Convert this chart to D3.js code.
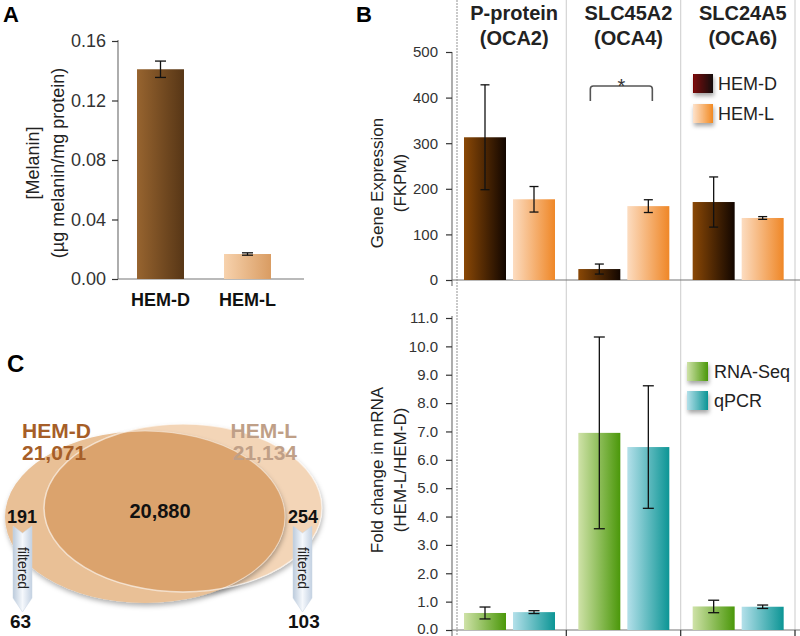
<!DOCTYPE html>
<html><head><meta charset="utf-8">
<script src="https://cdn.jsdelivr.net/npm/d3@7/dist/d3.min.js"></script>
<style>
body{margin:0;background:#fff;}
svg{display:block;font-family:"Liberation Sans",Arial,sans-serif;}
</style></head>
<body>
<svg id="chart" width="800" height="636"></svg>
<script>
// ---------- DATA ----------
const melaninCats = ["HEM-D", "HEM-L"];
const melaninVals = [0.141, 0.0168];
const melaninErr = [0.0055, 0.0008];
const melaninTicks = [0, 0.04, 0.08, 0.12, 0.16];

const genes = ["P-protein", "SLC45A2", "SLC24A5"];
const geneSub = ["(OCA2)", "(OCA4)", "(OCA6)"];
const exprSeries = ["HEM-D", "HEM-L"];
const exprD = [313, 24, 171];
const exprDErr = [115, 11, 55];
const exprL = [177, 162, 136];
const exprLErr = [28, 14, 3];
const exprTicks = [0, 100, 200, 300, 400, 500];

const foldSeries = ["RNA-Seq", "qPCR"];
const foldRNA = [0.6, 6.95, 0.83];
const foldRNAErr = [0.21, 3.38, 0.22];
const foldQPCR = [0.63, 6.45, 0.82];
const foldQPCRErr = [0.05, 2.16, 0.06];
const foldTicks = [0,1,2,3,4,5,6,7,8,9,10,11];

const vennSets = ["HEM-D", "HEM-L"];
const vennTotals = ["21,071", "21,134"];
const vennShared = "20,880";
const vennOnly = ["191", "254"];
const vennFiltered = ["63", "103"];

// ---------- SETUP ----------
const svg = d3.select("#chart");
const defs = svg.append("defs");
function grad(id, c1, c2){
  const g = defs.append("linearGradient").attr("id", id).attr("x1","0").attr("x2","1").attr("y1","0").attr("y2","0");
  g.append("stop").attr("offset","0").attr("stop-color", c1);
  g.append("stop").attr("offset","1").attr("stop-color", c2);
}
grad("gA_D", "#97642f", "#573616");
grad("gA_L", "#f7d2ad", "#d99c62");
grad("gB_D", "#8a4806", "#120600");
grad("gB_L", "#fcdcc0", "#ef8727");
grad("gLeg_D", "#7c0606", "#141010");
grad("gLeg_L", "#fde2cb", "#f28a22");
grad("gRNA", "#cfe2a8", "#4b980a");
grad("gQ", "#b4e0ea", "#0c9595");
const ag = defs.append("linearGradient").attr("id","gArrow").attr("x1","0").attr("x2","1");
ag.append("stop").attr("offset","0").attr("stop-color","#bccbdc");
ag.append("stop").attr("offset","0.5").attr("stop-color","#f5f8fc");
ag.append("stop").attr("offset","1").attr("stop-color","#c3d1e2");
const sh = defs.append("filter").attr("id","shadow").attr("x","-20%").attr("y","-20%").attr("width","150%").attr("height","160%");
sh.append("feDropShadow").attr("dx",1).attr("dy",3).attr("stdDeviation",2.5).attr("flood-color","#000").attr("flood-opacity",0.3);
const sh2 = defs.append("filter").attr("id","shadow2").attr("x","-30%").attr("y","-30%").attr("width","170%").attr("height","170%");
sh2.append("feDropShadow").attr("dx",1).attr("dy",3).attr("stdDeviation",2).attr("flood-color","#000").attr("flood-opacity",0.35);

function styleAxis(g, fs){
  g.selectAll(".domain").attr("stroke","#777").attr("stroke-width",1.2);
  g.selectAll(".tick line").attr("stroke","#333").attr("stroke-width",1.2);
  g.selectAll(".tick text").attr("fill","#333").attr("font-size",fs).attr("font-family","Liberation Sans, Arial, sans-serif");
}
function errBar(g, x, yTop, yBot, cap){
  g.append("line").attr("x1",x).attr("x2",x).attr("y1",yTop).attr("y2",yBot).attr("stroke","#111").attr("stroke-width",1.3);
  g.append("line").attr("x1",x-cap/2).attr("x2",x+cap/2).attr("y1",yTop).attr("y2",yTop).attr("stroke","#111").attr("stroke-width",1.3);
  g.append("line").attr("x1",x-cap/2).attr("x2",x+cap/2).attr("y1",yBot).attr("y2",yBot).attr("stroke","#111").attr("stroke-width",1.3);
}

// ---------- PANEL A ----------
const gA = svg.append("g");
const yA = d3.scaleLinear().domain([0,0.16]).range([279,41]);
const xA = d3.scaleBand().domain(melaninCats).range([117,291]).paddingInner(0.46).paddingOuter(0.23);
gA.append("line").attr("x1",118).attr("x2",304).attr("y1",279).attr("y2",279).attr("stroke","#777").attr("stroke-width",1.2);
const axA = gA.append("g").attr("transform","translate(118,0)")
  .call(d3.axisLeft(yA).tickValues(melaninTicks).tickFormat(d3.format(".2f")).tickSize(6).tickSizeOuter(0).tickPadding(6));
styleAxis(axA, 18);
axA.selectAll(".domain").attr("d","M0,40V279");
const aFills = ["url(#gA_D)","url(#gA_L)"];
melaninCats.forEach((c,i)=>{
  gA.append("rect").attr("x",xA(c)).attr("width",xA.bandwidth()).attr("y",yA(melaninVals[i])).attr("height",yA(0)-yA(melaninVals[i])).attr("fill",aFills[i]);
  errBar(gA, xA(c)+xA.bandwidth()/2, yA(melaninVals[i]+melaninErr[i]), yA(melaninVals[i]-melaninErr[i]), 11);
  gA.append("text").attr("x",xA(c)+xA.bandwidth()/2).attr("y",306).attr("text-anchor","middle").attr("font-size",18).attr("font-weight","bold").attr("fill","#111").text(c);
});
const aT = gA.append("text").attr("transform","translate(39,163) rotate(-90)").attr("text-anchor","middle").attr("font-size",18).attr("fill","#222");
aT.append("tspan").attr("x",0).attr("dy",0).text("[Melanin]");
aT.append("tspan").attr("x",0).attr("dy",25).text("(µg melanin/mg protein)");
svg.append("text").attr("x",3).attr("y",22).attr("font-size",22).attr("font-weight","bold").text("A");

// ---------- PANEL B ----------
const gB = svg.append("g");
const xG = d3.scaleBand().domain(genes).range([452,795]);
const xS = d3.scaleBand().domain(["a","b"]).range([12,103]).paddingInner(7/49);
const yT = d3.scaleLinear().domain([0,500]).range([280,52]);
const yF = d3.scaleLinear().domain([0,11]).range([630,318]);

// separators
const sepX = genes.map((g,i)=> i===0 ? xG(g)+5 : xG(g)).concat([xG.range()[1]]);
sepX.forEach((x,i)=>{
  gB.append("line").attr("x1",x).attr("x2",x).attr("y1",0).attr("y2",636)
    .attr("stroke", i===0 ? "#b8b8b8" : "#d4d4d4").attr("stroke-width", i===0?1.5:1.2)
    .attr("stroke-dasharray", i===0 ? "2,1" : null);
});
// headers
genes.forEach((g,i)=>{
  const cx = xG(g) + xG.bandwidth()/2 + 5;
  gB.append("text").attr("x",cx).attr("y",20).attr("text-anchor","middle").attr("font-size",20).attr("font-weight","bold").attr("fill","#222").text(g);
  gB.append("text").attr("x",cx).attr("y",45).attr("text-anchor","middle").attr("font-size",20).attr("font-weight","bold").attr("fill","#222").text(geneSub[i]);
});
svg.append("text").attr("x",356).attr("y",22).attr("font-size",22).attr("font-weight","bold").text("B");

// top chart axes
gB.append("line").attr("x1",452).attr("x2",800).attr("y1",280).attr("y2",280).attr("stroke","#777").attr("stroke-width",1.2);
const axT = gB.append("g").attr("transform","translate(452,0)")
  .call(d3.axisLeft(yT).tickValues(exprTicks).tickSize(6).tickSizeOuter(0).tickPadding(8));
styleAxis(axT, 15);
axT.selectAll(".domain").attr("d","M0,52V286");
const topFills = ["url(#gB_D)","url(#gB_L)"];
genes.forEach((g,i)=>{
  const vals = [exprD[i], exprL[i]], errs = [exprDErr[i], exprLErr[i]];
  ["a","b"].forEach((s,j)=>{
    const x0 = xG(g)+xS(s);
    gB.append("rect").attr("x",x0).attr("width",xS.bandwidth()).attr("y",yT(vals[j])).attr("height",yT(0)-yT(vals[j])).attr("fill",topFills[j]);
    errBar(gB, x0+xS.bandwidth()/2, yT(vals[j]+errs[j]), yT(vals[j]-errs[j]), 9);
  });
});
// significance bracket
const bx1 = xG(genes[1])+xS("a")+12, bx2 = xG(genes[1])+xS("b")+25;
gB.append("path").attr("d",`M${bx1},101 V89 Q${bx1},86 ${bx1+3},86 H${bx2-3} Q${bx2},86 ${bx2},89 V101`).attr("fill","none").attr("stroke","#555").attr("stroke-width",1.6);
gB.append("text").attr("x",(bx1+bx2)/2).attr("y",93).attr("text-anchor","middle").attr("font-size",20).attr("fill","#333").text("*");
// legend top
const legTopFills = ["url(#gLeg_D)","url(#gLeg_L)"];
exprSeries.forEach((s,i)=>{
  const y = 74 + i*30;
  gB.append("rect").attr("x",693).attr("y",y).attr("width",20).attr("height",19).attr("fill",legTopFills[i]).attr("filter","url(#shadow2)");
  gB.append("text").attr("x",718).attr("y",y+16).attr("font-size",18).attr("fill","#222").text(s);
});
const tT = gB.append("text").attr("transform","translate(383,183) rotate(-90)").attr("text-anchor","middle").attr("font-size",17).attr("fill","#222");
tT.append("tspan").attr("x",0).attr("dy",0).text("Gene Expression");
tT.append("tspan").attr("x",0).attr("dy",23).text("(FKPM)");

// bottom chart axes
gB.append("line").attr("x1",452).attr("x2",800).attr("y1",630).attr("y2",630).attr("stroke","#777").attr("stroke-width",1.2);
const axF = gB.append("g").attr("transform","translate(452,0)")
  .call(d3.axisLeft(yF).tickValues(foldTicks).tickFormat(d3.format(".1f")).tickSize(6).tickSizeOuter(0).tickPadding(8));
styleAxis(axF, 15);
axF.selectAll(".domain").attr("d","M0,316V636");
axF.selectAll(".tick text").filter(d=>d===0).attr("dy","0.2em");
sepX.slice(1).forEach(x=>{
  gB.append("line").attr("x1",x).attr("x2",x).attr("y1",630).attr("y2",636).attr("stroke","#333").attr("stroke-width",1.2);
});
const botFills = ["url(#gRNA)","url(#gQ)"];
genes.forEach((g,i)=>{
  const vals = [foldRNA[i], foldQPCR[i]], errs = [foldRNAErr[i], foldQPCRErr[i]];
  ["a","b"].forEach((s,j)=>{
    const x0 = xG(g)+xS(s);
    gB.append("rect").attr("x",x0).attr("width",xS.bandwidth()).attr("y",yF(vals[j])).attr("height",yF(0)-yF(vals[j])).attr("fill",botFills[j]);
    errBar(gB, x0+xS.bandwidth()/2, yF(vals[j]+errs[j]), yF(vals[j]-errs[j]), 11);
  });
});
const legBotFills = ["url(#gRNA)","url(#gQ)"];
foldSeries.forEach((s,i)=>{
  const y = 362 + i*29;
  gB.append("rect").attr("x",687).attr("y",y).attr("width",21).attr("height",19).attr("fill",legBotFills[i]).attr("filter","url(#shadow2)");
  gB.append("text").attr("x",714).attr("y",y+16).attr("font-size",18).attr("fill","#222").text(s);
});
const tF = gB.append("text").attr("transform","translate(383,470) rotate(-90)").attr("text-anchor","middle").attr("font-size",17).attr("fill","#222");
tF.append("tspan").attr("x",0).attr("dy",0).text("Fold change in mRNA");
tF.append("tspan").attr("x",0).attr("dy",23).text("(HEM-L/HEM-D)");

// ---------- PANEL C ----------
const gC = svg.append("g");
svg.append("text").attr("x",7).attr("y",372).attr("font-size",24).attr("font-weight","bold").text("C");
const ellD = {cx:145, cy:517, rx:140, ry:86};
const ellL = {cx:183, cy:508, rx:139, ry:84};
defs.append("clipPath").attr("id","clipL").append("ellipse").attr("cx",ellL.cx).attr("cy",ellL.cy).attr("rx",ellL.rx).attr("ry",ellL.ry);
gC.append("ellipse").attr("cx",ellL.cx).attr("cy",ellL.cy).attr("rx",ellL.rx).attr("ry",ellL.ry).attr("fill","#f3d5b7").attr("filter","url(#shadow)");
gC.append("ellipse").attr("cx",ellD.cx).attr("cy",ellD.cy).attr("rx",ellD.rx).attr("ry",ellD.ry).attr("fill","#e9c096").attr("filter","url(#shadow)");
gC.append("ellipse").attr("cx",ellD.cx).attr("cy",ellD.cy).attr("rx",ellD.rx).attr("ry",ellD.ry).attr("fill","#dba36d").attr("clip-path","url(#clipL)");
gC.append("ellipse").attr("cx",ellL.cx).attr("cy",ellL.cy).attr("rx",ellL.rx).attr("ry",ellL.ry).attr("fill","none").attr("stroke","rgba(255,255,255,0.6)").attr("stroke-width",1.5);
gC.append("ellipse").attr("cx",ellD.cx).attr("cy",ellD.cy).attr("rx",ellD.rx).attr("ry",ellD.ry).attr("fill","none").attr("stroke","rgba(255,255,255,0.45)").attr("stroke-width",1.2).attr("clip-path","url(#clipL)");

const setColors = ["#a65e28", "#bf9f87"];
gC.append("text").attr("x",22).attr("y",438).attr("font-size",21).attr("font-weight","bold").attr("fill",setColors[0]).text(vennSets[0]);
gC.append("text").attr("x",22).attr("y",460).attr("font-size",21).attr("font-weight","bold").attr("fill",setColors[0]).text(vennTotals[0]);
gC.append("text").attr("x",297).attr("y",438).attr("text-anchor","end").attr("font-size",21).attr("font-weight","bold").attr("fill",setColors[1]).text(vennSets[1]);
gC.append("text").attr("x",297).attr("y",460).attr("text-anchor","end").attr("font-size",21).attr("font-weight","bold").attr("fill",setColors[1]).text(vennTotals[1]);
gC.append("text").attr("x",160).attr("y",518).attr("text-anchor","middle").attr("font-size",20).attr("font-weight","bold").attr("fill","#111").text(vennShared);

const arrowX = [22.5, 302.5];
arrowX.forEach((cx,i)=>{
  const w = 9.5, yt = 526, yb = 598, tip = 612, notch = 7;
  gC.append("path").attr("d",`M${cx-w},${yt} L${cx},${yt+notch} L${cx+w},${yt} L${cx+w},${yb} L${cx},${tip} L${cx-w},${yb} Z`)
    .attr("fill","url(#gArrow)").attr("stroke","#c9d5e3").attr("stroke-width",0.5);
  gC.append("text").attr("transform",`translate(${cx-4.5},568) rotate(90)`).attr("text-anchor","middle").attr("font-size",14).attr("fill","#222").text("filtered");
  gC.append("text").attr("x", i===0 ? 7 : 288).attr("y",523).attr("font-size",18).attr("font-weight","bold").attr("fill","#111").text(vennOnly[i]);
  gC.append("text").attr("x", i===0 ? 10 : 288).attr("y",628).attr("font-size",19).attr("font-weight","bold").attr("fill","#111").text(vennFiltered[i]);
});
</script>
</body></html>
